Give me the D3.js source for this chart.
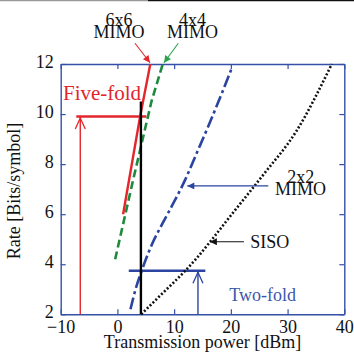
<!DOCTYPE html>
<html><head><meta charset="utf-8">
<script src="https://cdn.jsdelivr.net/npm/d3@7"></script>
<style>
html,body{margin:0;padding:0;background:#fff;}
svg{display:block;}
text{font-family:"Liberation Serif","Times New Roman",Tinos,Times,serif;}
</style></head>
<body>
<script>
// ---- data ----
const xTicks = [-10, 0, 10, 20, 30, 40];
const yTicks = [2, 4, 6, 8, 10, 12];
const mimo6 = [[1, 6], [4, 9.9], [5.8, 12]];
const mimo4 = [[-0.4, 4.2], [2.8, 7.4], [6, 10.5], [8, 12]];
const mimo2 = [[2.3, 2.2], [3.2, 3.0], [4.3, 3.75], [6, 4.75], [8, 5.65], [10, 6.5], [12, 7.4], [14, 8.45], [16, 9.5], [18, 10.6], [20.1, 11.8]];
const siso = [[4.2, 2], [8, 2.85], [12, 3.75], [14, 4.25], [16.6, 4.97], [20, 5.95], [25.7, 7.57], [31.5, 9.3], [37.8, 12]];
const refPower = 4.14;          // black vertical reference
const refTop = 10.5;
const fiveFoldRate = 9.9;       // red horizontal
const fiveFoldSpan = [-7.25, 5.1];
const fiveFoldArrowX = -6.55;
const twoFoldRate = 3.74;       // blue horizontal
const twoFoldSpan = [2.0, 15.5];
const twoFoldArrowX = 14.2;

const W = 354, H = 360;
const m = {l: 60.7, t: 64, r: 354 - 344.3, b: 360 - 314.3};
const svg = d3.select("body").append("svg").attr("width", W).attr("height", H);

// decorative top edge
svg.append("line").attr("x1", 0).attr("x2", 148).attr("y1", 0.6).attr("y2", 0.6).attr("stroke", "#999").attr("stroke-width", 1.3);
svg.append("line").attr("x1", 148).attr("x2", W).attr("y1", 0.6).attr("y2", 0.6).attr("stroke", "#111").attr("stroke-width", 1.5);

const x = d3.scaleLinear().domain([-10, 40]).range([m.l, W - m.r]);
const y = d3.scaleLinear().domain([2, 12]).range([H - m.b, m.t]);

const axisBlue = "#3550a8";
const red = "#e3262c", green = "#1f8a3e", blue = "#2a44a0", labelBlue = "#3b56ad";

// markers
const defs = svg.append("defs");
function tri(id, col) {
  defs.append("marker").attr("id", id).attr("viewBox", "0 0 10 10").attr("refX", 10).attr("refY", 5)
    .attr("markerWidth", 9).attr("markerHeight", 7).attr("markerUnits", "userSpaceOnUse").attr("orient", "auto")
    .append("path").attr("d", "M0,0 L10,5 L0,10 Z").attr("fill", col);
}
tri("aRed", red); tri("aGreen", "#2aa24a"); tri("aBlue", blue); tri("aBlack", "#111");

// axes
function styleAxis(g) {
  g.select(".domain").attr("stroke", axisBlue).attr("stroke-width", 1.4);
  g.selectAll(".tick line").attr("stroke", axisBlue).attr("stroke-width", 1.2);
  g.selectAll(".tick text").attr("fill", "#111").attr("font-size", 18);
}
svg.append("g").attr("transform", `translate(0,${H - m.b})`)
  .call(d3.axisBottom(x).tickValues(xTicks).tickSizeInner(-5).tickSizeOuter(0).tickPadding(6))
  .call(styleAxis);
svg.append("g").attr("transform", `translate(0,${m.t})`)
  .call(d3.axisTop(x).tickValues(xTicks).tickSizeInner(-5).tickSizeOuter(0).tickFormat(""))
  .call(styleAxis);
svg.append("g").attr("transform", `translate(${m.l},0)`)
  .call(d3.axisLeft(y).tickValues(yTicks).tickSizeInner(-5).tickSizeOuter(0).tickPadding(7))
  .call(styleAxis)
  .call(g => g.selectAll(".tick text").attr("dy", "0.17em"));
svg.append("g").attr("transform", `translate(${W - m.r},0)`)
  .call(d3.axisRight(y).tickValues(yTicks).tickSizeInner(-5).tickSizeOuter(0).tickFormat(""))
  .call(styleAxis);

// axis titles
svg.append("text").attr("x", 202.5).attr("y", 348).attr("text-anchor", "middle")
  .attr("font-size", 18).attr("fill", "#111").text("Transmission power [dBm]");
svg.append("text").attr("transform", "translate(20,191) rotate(-90)").attr("text-anchor", "middle")
  .attr("font-size", 18).attr("fill", "#111").text("Rate [Bits/symbol]");

const line = d3.line().x(d => x(d[0])).y(d => y(d[1]));
const curve = d3.line().x(d => x(d[0])).y(d => y(d[1])).curve(d3.curveMonotoneX);

// reference lines
svg.append("path").attr("d", line([[fiveFoldSpan[0], fiveFoldRate], [fiveFoldSpan[1], fiveFoldRate]]))
  .attr("stroke", red).attr("stroke-width", 2.6).attr("fill", "none");
svg.append("path").attr("d", line([[twoFoldSpan[0], twoFoldRate], [twoFoldSpan[1], twoFoldRate]]))
  .attr("stroke", blue).attr("stroke-width", 2.4).attr("fill", "none");

// series
svg.append("path").attr("d", curve(siso)).attr("stroke", "#111").attr("stroke-width", 2.6)
  .attr("stroke-dasharray", "2,2").attr("fill", "none");
svg.append("path").attr("d", curve(mimo2)).attr("stroke", blue).attr("stroke-width", 2.6)
  .attr("stroke-dasharray", "12,3.5,3,3.5").attr("fill", "none");
svg.append("path").attr("d", line(mimo4)).attr("stroke", green).attr("stroke-width", 2.6)
  .attr("stroke-dasharray", "8,4").attr("fill", "none");
svg.append("path").attr("d", line(mimo6)).attr("stroke", red).attr("stroke-width", 2.4).attr("fill", "none");

svg.append("path").attr("d", line([[refPower, 2], [refPower, refTop]]))
  .attr("stroke", "#000").attr("stroke-width", 2.4).attr("fill", "none");

// fold arrows (open chevron heads)
function foldArrow(xv, y0, y1, col) {
  svg.append("path").attr("d", line([[xv, y0], [xv, y1]])).attr("stroke", col).attr("stroke-width", 1.4).attr("fill", "none");
  const px = x(xv), py = y(y1) + 1.5;
  svg.append("path").attr("d", `M${px - 5},${py + 11} L${px},${py} L${px + 5},${py + 11}`)
    .attr("stroke", col).attr("stroke-width", 1.3).attr("fill", "none");
}
foldArrow(fiveFoldArrowX, 2, fiveFoldRate, red);
foldArrow(twoFoldArrowX, 2, twoFoldRate, blue);

// label arrows
function labelArrow(from, to, col, mk) {
  svg.append("path").attr("d", line([from, to])).attr("stroke", col).attr("stroke-width", 1.1)
    .attr("fill", "none").attr("marker-end", `url(#${mk})`);
}
labelArrow([3.1, 12.83], [5.74, 12.05], red, "aRed");
labelArrow([10.73, 12.83], [8.21, 12.05], "#2aa24a", "aGreen");
labelArrow([26.6, 7.13], [12.32, 7.13], blue, "aBlue");
labelArrow([22.3, 4.9], [16.3, 4.9], "#111", "aBlack");

// text labels
function txt(xv, yv, s, opts = {}) {
  svg.append("text").attr("x", x(xv)).attr("y", y(yv)).attr("text-anchor", opts.anchor || "middle")
    .attr("font-size", opts.size || 18).attr("fill", opts.fill || "#111").text(s);
}
function txt2(xv, yv, l1, l2) {
  const t = svg.append("text").attr("x", x(xv)).attr("y", y(yv)).attr("text-anchor", "middle")
    .attr("font-size", 18).attr("fill", "#111");
  t.append("tspan").attr("x", x(xv)).attr("dy", 0).text(l1);
  t.append("tspan").attr("x", x(xv)).attr("dy", 12).text(l2);
}
txt2(0.28, 13.52, "6x6", "MIMO");
txt2(13.24, 13.52, "4x4", "MIMO");
txt2(32.3, 7.25, "2x2", "MIMO");
txt(23.4, 4.64, "SISO", {anchor: "start"});
txt(-9.6, 10.56, "Five-fold", {anchor: "start", size: 21, fill: red});
txt(19.7, 2.54, "Two-fold", {anchor: "start", fill: labelBlue});
</script>
</body></html>
